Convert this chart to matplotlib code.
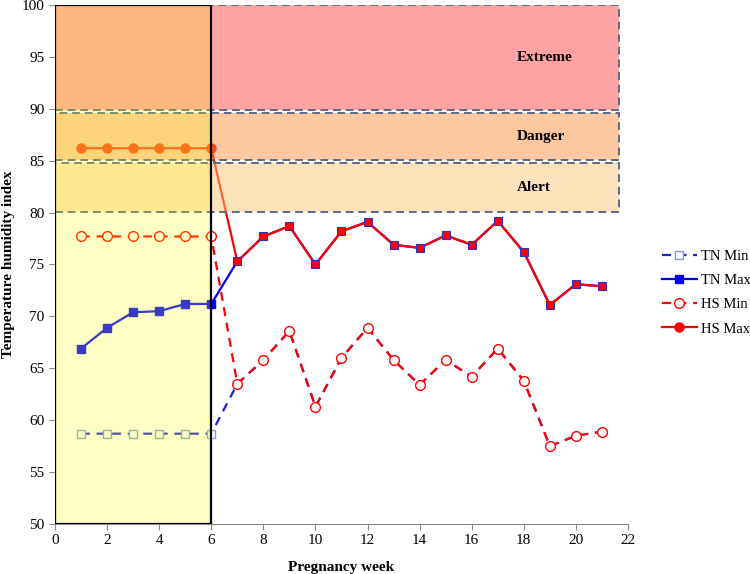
import matplotlib
matplotlib.use("Agg")
import matplotlib.pyplot as plt
from matplotlib.patches import Rectangle
import numpy as np

plt.rcParams['font.family'] = ['Liberation Serif', 'DejaVu Serif']

# data
weeks = np.arange(1, 22)
tn_min = [58.7, 58.7, 58.7, 58.7, 58.7, 58.7, 63.5, 65.8, 68.6, 61.3, 66.0,
          68.9, 65.8, 63.4, 65.8, 64.2, 66.9, 63.8, 57.5, 58.5, 58.9]
tn_max = [66.9, 68.9, 70.4, 70.5, 71.2, 71.2, 75.3, 77.7, 78.7, 75.0, 78.2,
          79.1, 76.9, 76.6, 77.8, 76.9, 79.2, 76.2, 71.1, 73.1, 72.9]
hs_min = [77.7, 77.7, 77.7, 77.7, 77.7, 77.7, 63.5, 65.8, 68.6, 61.3, 66.0,
          68.9, 65.8, 63.4, 65.8, 64.2, 66.9, 63.8, 57.5, 58.5, 58.9]
hs_max = [86.2, 86.2, 86.2, 86.2, 86.2, 86.2, 75.3, 77.7, 78.7, 75.0, 78.2,
          79.1, 76.9, 76.6, 77.8, 76.9, 79.2, 76.2, 71.1, 73.1, 72.9]

# THI zones (lower, upper, label)
zones = [(89.9, 100.0, 'Extreme'), (85.1, 89.6, 'Danger'), (80.1, 84.8, 'Alert')]
zone_colors = ['#ff4747', '#fd9141', '#fbc777']
zone_label_x = [18.8, 18.65, 18.4]
adapt_end = 6  # adaptation period (weeks 0-6)

fig = plt.figure(figsize=(7.5, 5.74), dpi=100)
ax = fig.add_axes([0.0733, 0.0871, 0.764, 0.9042])

first = list(range(6))

l1, = ax.plot(weeks, tn_min, color='#1f1fd6', ls=(0, (4, 3)), lw=1.6,
              marker='s', ms=6, mfc='white', mec='#7f9fd0', mew=1.0,
              markevery=first, zorder=2)
l2, = ax.plot(weeks, tn_max, color='#0000ff', lw=1.6, marker='s', ms=6.3,
              mfc='#0000ff', mec='#0000ff', markevery=first, zorder=2)
l3, = ax.plot(weeks, hs_min, color='#ff0000', ls=(0, (4, 3)), lw=1.6,
              marker='o', ms=7, mfc='white', mec='#ff0000', mew=1.0,
              markevery=first, zorder=3)
l4, = ax.plot(weeks, hs_max, color='#ff0000', lw=1.6, marker='o', ms=6.5,
              mfc='#ff0000', mec='#ff0000', markevery=first, zorder=3)
# markers after the adaptation period
ax.plot(weeks[6:], hs_min[6:], ls='none', marker='o', ms=7, mfc='white',
        mec='#ff0000', mew=1.0, zorder=3)
ax.plot(weeks[6:], hs_max[6:], ls='none', marker='s', ms=6.3, mfc='#ff0000',
        mec='#3030c0', mew=0.8, zorder=3)

# zone boxes, semi transparent on top of the lines
for (lo, hi, name), c, lx in zip(zones, zone_colors, zone_label_x):
    ax.add_patch(Rectangle((0, lo), 21.65, hi - lo, facecolor=c, alpha=0.5,
                           edgecolor='none', zorder=4))
    ax.add_patch(Rectangle((0, lo), 21.65, hi - lo, facecolor='none',
                           edgecolor='#5a6a88', lw=1.4, ls=(0, (4, 2.5)),
                           zorder=5))
    ax.text(lx, (lo + hi) / 2, name, ha='center', va='center',
            fontsize=11, fontweight='bold', zorder=6)

ax.add_patch(Rectangle((0, 50), adapt_end, 50, facecolor='#f8ff00',
                       alpha=0.23, edgecolor='none', zorder=6))
ax.add_patch(Rectangle((0, 50), adapt_end, 50, facecolor='none',
                       edgecolor='black', lw=1.6, zorder=7))

ax.set_xlim(0, 22)
ax.set_ylim(50, 100)
ax.set_xticks(np.arange(0, 23, 2))
ax.set_yticks(np.arange(50, 101, 5))
ax.tick_params(labelsize=11, direction='out', length=4, color='#888888')
for s in ['top', 'right']:
    ax.spines[s].set_visible(False)
for s in ['left', 'bottom']:
    ax.spines[s].set_color('#888888')

ax.set_xlabel('Pregnancy week', fontsize=11, fontweight='bold', labelpad=10)
ax.set_ylabel('Temperature humidity index', fontsize=11, fontweight='bold',
              labelpad=5)

fig.legend([l1, l2, l3, l4], ['TN Min', 'TN Max', 'HS Min', 'HS Max'],
           loc='center left', bbox_to_anchor=(0.865, 0.49), frameon=False,
           fontsize=10.5, handlelength=2.4, labelspacing=0.75,
           handletextpad=0.3)

fig.savefig('out.png', dpi=100)
